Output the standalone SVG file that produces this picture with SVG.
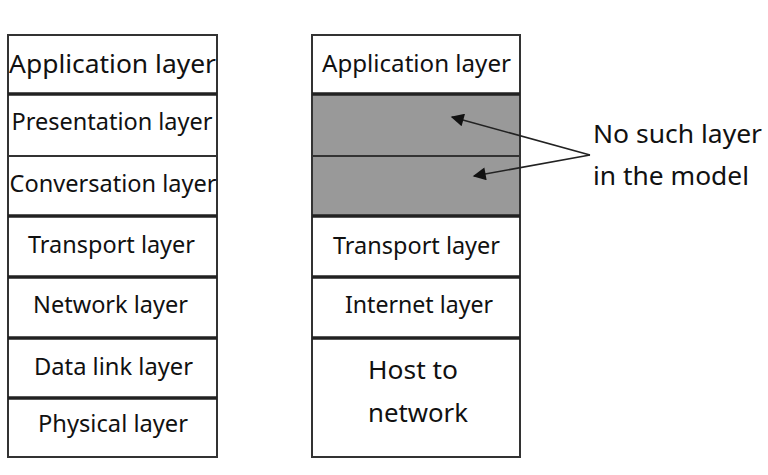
<svg xmlns="http://www.w3.org/2000/svg" width="768" height="475" viewBox="0 0 768 475">
<defs>
<style>
.box{fill:#fff;stroke:#333;stroke-width:2}
.gray{fill:#999;stroke:#333;stroke-width:2}
.thick{stroke:#222;stroke-width:3.5}
.t{font-family:"Noto Sans","Open Sans","DejaVu Sans",sans-serif;font-size:23.5px;fill:#111;text-anchor:middle}
.big{font-size:25px}
.host{font-size:26px}
.lbl{font-family:"Noto Sans","Open Sans","DejaVu Sans",sans-serif;font-size:26px;fill:#111}
.conn{stroke:#222;stroke-width:1.6;fill:none}
</style>
<marker id="ah" viewBox="0 0 10 10" refX="9" refY="5" markerWidth="18" markerHeight="13" orient="auto" markerUnits="userSpaceOnUse">
<path d="M0,0 L10,5 L0,10 z" fill="#111"/>
</marker>
</defs>
<rect width="768" height="475" fill="#fff"/>
<g id="osi">
<g id="osi-application"><rect class="box" x="8" y="35" width="209" height="59"/><text class="t big" x="112.5" y="73" textLength="207" lengthAdjust="spacingAndGlyphs">Application layer</text></g>
<g id="osi-presentation"><rect class="box" x="8" y="94" width="209" height="62"/><text class="t" x="112" y="130" textLength="201" lengthAdjust="spacingAndGlyphs">Presentation layer</text></g>
<g id="osi-session"><rect class="box" x="8" y="156" width="209" height="60"/><text class="t" x="113" y="192" textLength="207" lengthAdjust="spacingAndGlyphs">Conversation layer</text></g>
<g id="osi-transport"><rect class="box" x="8" y="216" width="209" height="61"/><text class="t" x="111.5" y="253" textLength="167" lengthAdjust="spacingAndGlyphs">Transport layer</text></g>
<g id="osi-network"><rect class="box" x="8" y="277" width="209" height="61"/><text class="t" x="110.5" y="313" textLength="155" lengthAdjust="spacingAndGlyphs">Network layer</text></g>
<g id="osi-datalink"><rect class="box" x="8" y="338" width="209" height="60"/><text class="t" x="113.5" y="375" textLength="159" lengthAdjust="spacingAndGlyphs">Data link layer</text></g>
<g id="osi-physical"><rect class="box" x="8" y="398" width="209" height="59"/><text class="t" x="113" y="432" textLength="150" lengthAdjust="spacingAndGlyphs">Physical layer</text></g>
<line class="thick" x1="8" y1="94" x2="217" y2="94"/>
<line class="thick" x1="8" y1="216" x2="217" y2="216"/>
<line class="thick" x1="8" y1="277" x2="217" y2="277"/>
<line class="thick" x1="8" y1="338" x2="217" y2="338"/>
<line class="thick" x1="8" y1="398" x2="217" y2="398"/>
</g>
<g id="tcpip">
<g id="tcp-application"><rect class="box" x="312" y="35" width="208" height="59"/><text class="t" x="416.5" y="72" textLength="189" lengthAdjust="spacingAndGlyphs">Application layer</text></g>
<g id="tcp-empty1"><rect class="gray" x="312" y="94" width="208" height="62"/></g>
<g id="tcp-empty2"><rect class="gray" x="312" y="156" width="208" height="60"/></g>
<g id="tcp-transport"><rect class="box" x="312" y="216" width="208" height="61"/><text class="t" x="416.5" y="254" textLength="167" lengthAdjust="spacingAndGlyphs">Transport layer</text></g>
<g id="tcp-internet"><rect class="box" x="312" y="277" width="208" height="61"/><text class="t" x="419" y="313" textLength="148" lengthAdjust="spacingAndGlyphs">Internet layer</text></g>
<g id="tcp-host"><rect class="box" x="312" y="338" width="208" height="119"/><text class="t host" x="413" y="379" textLength="90" lengthAdjust="spacingAndGlyphs">Host to</text><text class="t host" x="418" y="422" textLength="100" lengthAdjust="spacingAndGlyphs">network</text></g>
<line class="thick" x1="312" y1="94" x2="520" y2="94"/>
<line class="thick" x1="312" y1="216" x2="520" y2="216"/>
<line class="thick" x1="312" y1="277" x2="520" y2="277"/>
<line class="thick" x1="312" y1="338" x2="520" y2="338"/>
</g>
<g id="note"><text class="lbl" x="593" y="143" textLength="169" lengthAdjust="spacingAndGlyphs">No such layer</text><text class="lbl" x="593" y="185" textLength="156" lengthAdjust="spacingAndGlyphs">in the model</text></g>
<g id="connectors">
<line class="conn" x1="590" y1="155" x2="452" y2="117" marker-end="url(#ah)"/>
<line class="conn" x1="590" y1="155" x2="474" y2="176" marker-end="url(#ah)"/>
</g>
</svg>
